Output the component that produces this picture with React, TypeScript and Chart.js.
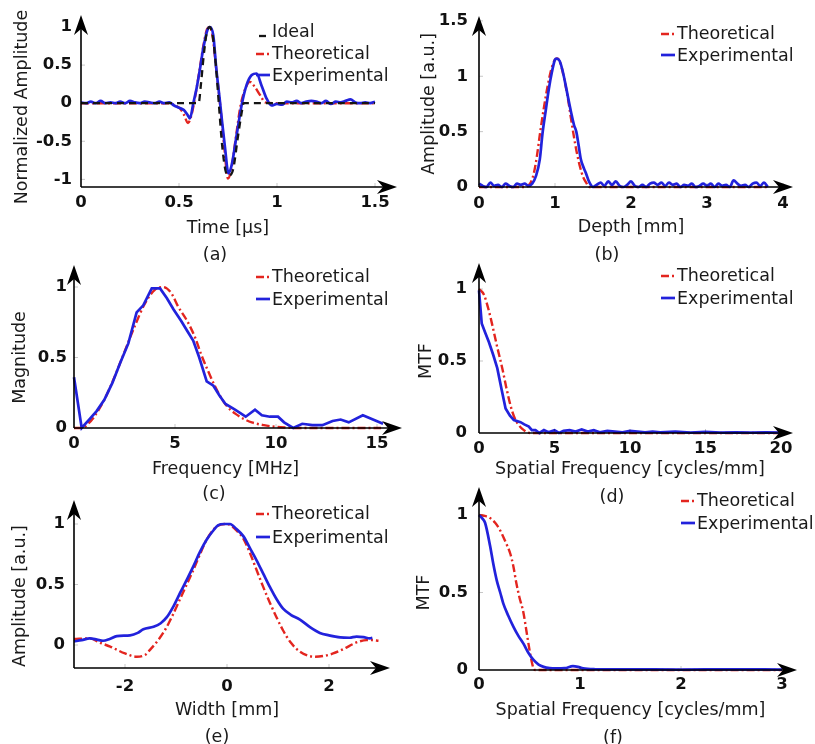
import React, { useEffect, useRef } from "react";
import { Chart, registerables } from "chart.js";

Chart.register(...registerables);

const FONT = '"DejaVu Sans", "Liberation Sans", sans-serif';
const TITLE_SIZE = 17.5;
const TICK_SIZE = 16.5;
const LH = TITLE_SIZE * 1.2;
const W = 815;
const H = 744;

// ---------- (a) pulse ----------
const A_IDEAL_T = [0, 0.6, 0.612, 0.625, 0.64, 0.656, 0.672, 0.688, 0.703, 0.72, 0.737, 0.753, 0.777, 0.8, 0.82, 0.83, 1.5];
const A_IDEAL_V = [0, 0, 0.25, 0.6, 0.9, 1.0, 0.88, 0.5, 0.0, -0.55, -0.88, -0.95, -0.86, -0.45, -0.12, 0, 0];
const A_THEO_T = [0, 0.1, 0.2, 0.3, 0.4, 0.45, 0.48, 0.505, 0.525, 0.546, 0.56, 0.575, 0.59, 0.607, 0.624, 0.643, 0.655, 0.67, 0.69, 0.709, 0.73, 0.75, 0.768, 0.79, 0.815, 0.84, 0.862, 0.885, 0.913, 0.94, 1.0, 1.2, 1.5];
const A_THEO_V = [0, 0, 0, 0, 0, 0, -0.03, -0.07, -0.15, -0.26, -0.19, -0.02, 0.2, 0.47, 0.75, 0.97, 1.0, 0.9, 0.45, 0.0, -0.55, -0.99, -0.85, -0.45, -0.02, 0.2, 0.28, 0.22, 0.11, 0.01, 0, 0, 0];
const A_EXP_T = [
  0, 0.025, 0.05, 0.075, 0.1, 0.125, 0.15, 0.175, 0.2, 0.225, 0.25, 0.275, 0.3, 0.325, 0.35, 0.375, 0.4, 0.425, 0.45, 0.475, 0.5,
  0.525, 0.545, 0.556, 0.573, 0.59, 0.607, 0.624, 0.645, 0.658, 0.675, 0.69, 0.709, 0.72, 0.735, 0.752, 0.769, 0.794, 0.82, 0.845, 0.871, 0.896, 0.92, 0.947, 0.972,
  1.0, 1.025, 1.05, 1.075, 1.1, 1.125, 1.15, 1.175, 1.2, 1.225, 1.25, 1.275, 1.3, 1.325, 1.35, 1.375, 1.4, 1.425, 1.45, 1.475, 1.5,
];
const A_EXP_V = [
  0.01, 0, 0.02, 0, 0.03, 0, 0.01, 0, 0.02, 0, 0.03, 0.01, 0, 0.02, 0.01, 0, 0.02, 0, 0.01, -0.03, -0.06,
  -0.09, -0.16, -0.2, 0.0, 0.2, 0.45, 0.72, 0.96, 1.0, 0.89, 0.46, 0.02, -0.25, -0.59, -0.92, -0.81, -0.42, -0.02, 0.24, 0.37, 0.39, 0.24, 0.06, -0.03,
  -0.01, -0.02, 0.02, 0.01, 0.03, 0, 0.02, 0.03, 0.02, 0, 0.03, -0.01, 0.02, 0.01, 0.03, 0.05, 0.01, 0, 0.01, 0, 0.02,
];

// ---------- (b) depth profile ----------
const B_THEO_D = [0, 0.6, 0.68, 0.72, 0.76, 0.8, 0.85, 0.9, 0.95, 1.0, 1.03, 1.07, 1.12, 1.17, 1.21, 1.25, 1.29, 1.33, 1.37, 1.41, 1.45, 2.0, 3.0, 3.8];
const B_THEO_V = [0, 0, 0.04, 0.12, 0.27, 0.47, 0.7, 0.9, 1.06, 1.15, 1.16, 1.12, 0.98, 0.8, 0.62, 0.45, 0.3, 0.18, 0.09, 0.04, 0, 0, 0, 0];
const B_EXP_D = [
  0, 0.05, 0.1, 0.15, 0.2, 0.25, 0.3, 0.35, 0.4, 0.45, 0.5, 0.55, 0.6, 0.65, 0.7,
  0.75, 0.8, 0.835, 0.88, 0.92, 0.96, 1.0, 1.02, 1.06, 1.1, 1.14, 1.18, 1.21, 1.25, 1.28, 1.31, 1.34, 1.38, 1.41, 1.44, 1.47,
  1.5, 1.55, 1.6, 1.65, 1.7, 1.75, 1.8, 1.85, 1.9, 1.95, 2.0, 2.05, 2.1, 2.15, 2.2, 2.25, 2.3, 2.35, 2.4, 2.45, 2.5, 2.55, 2.6,
  2.65, 2.7, 2.75, 2.8, 2.85, 2.9, 2.95, 3.0, 3.05, 3.1, 3.15, 3.2, 3.25, 3.3, 3.35, 3.4, 3.45, 3.5, 3.55, 3.6, 3.65, 3.7, 3.75, 3.8,
];
const B_EXP_V = [
  0.03, 0.01, 0.0, 0.04, 0.01, 0.02, 0.0, 0.03, 0.01, 0.0, 0.03, 0.02, 0.03, 0.01, 0.03,
  0.1, 0.25, 0.48, 0.7, 0.89, 1.04, 1.15, 1.16, 1.14, 1.05, 0.92, 0.78, 0.68, 0.56, 0.5, 0.38, 0.25, 0.17, 0.12, 0.06, 0.02,
  0.0, 0.02, 0.04, 0.01, 0.05, 0.02, 0.05, 0.01, 0.0, 0.02, 0.05, 0.01, 0.0, 0.02, 0.0, 0.03, 0.04, 0.02, 0.04, 0.01, 0.04, 0.02, 0.03,
  0.0, 0.02, 0.01, 0.03, 0.0, 0.01, 0.03, 0.01, 0.03, 0.0, 0.03, 0.01, 0.02, 0.0, 0.06, 0.03, 0.01, 0.02, 0.0, 0.03, 0.04, 0.01, 0.04, 0.0,
];

// ---------- (c) spectrum ----------
const C_THEO_F = [0, 0.4, 0.7, 1.0, 1.5, 2.0, 2.5, 3.0, 3.5, 4.0, 4.4, 4.8, 5.16, 5.6, 6.0, 6.3, 6.65, 7.0, 7.3, 7.6, 8.0, 8.4, 8.8, 9.4, 10.0, 10.5, 11.0, 15.2];
const C_THEO_V = [0, 0, 0.03, 0.08, 0.2, 0.36, 0.54, 0.72, 0.88, 0.98, 1.0, 0.96, 0.86, 0.76, 0.64, 0.52, 0.4, 0.29, 0.21, 0.15, 0.1, 0.065, 0.04, 0.02, 0.008, 0.003, 0, 0];
const C_EXP_F = [0, 0.38, 0.75, 1.12, 1.5, 1.9, 2.28, 2.69, 3.1, 3.43, 3.85, 4.26, 4.6, 4.93, 5.3, 5.6, 5.9, 6.2, 6.57, 6.9, 7.2, 7.5, 7.97, 8.5, 8.96, 9.3, 9.7, 10.1, 10.4, 10.85, 11.3, 11.8, 12.3, 12.8, 13.2, 13.6, 14.3, 14.8, 15.3];
const C_EXP_V = [0.36, 0.0, 0.06, 0.12, 0.2, 0.32, 0.46, 0.6, 0.82, 0.87, 0.99, 0.99, 0.92, 0.84, 0.76, 0.69, 0.62, 0.5, 0.33, 0.3, 0.23, 0.17, 0.13, 0.08, 0.13, 0.09, 0.08, 0.08, 0.04, 0.0, 0.03, 0.02, 0.02, 0.05, 0.06, 0.04, 0.09, 0.06, 0.03];

// ---------- (d) axial MTF ----------
const D_THEO_F = [0, 0.33, 0.6, 0.88, 1.2, 1.54, 1.8, 2.09, 2.3, 2.53, 2.75, 2.97, 3.2, 3.4, 20];
const D_THEO_V = [1.0, 0.96, 0.87, 0.75, 0.6, 0.45, 0.32, 0.19, 0.12, 0.07, 0.04, 0.02, 0.005, 0, 0];
const D_EXP_F = [0, 0.18, 0.4, 0.66, 0.95, 1.21, 1.5, 1.76, 2.05, 2.31, 2.75, 3.0, 3.3, 3.5, 3.74, 4.0, 4.3, 4.6, 5.0, 5.3, 5.6, 6.0, 6.4, 6.8, 7.2, 7.6, 8.0, 8.5, 9.0, 9.5, 10.0, 10.5, 11.0, 11.5, 12.0, 13.0, 14.0, 15.0, 16.0, 17.0, 18.0, 19.0, 20.0];
const D_EXP_V = [0.99, 0.76, 0.7, 0.63, 0.54, 0.45, 0.3, 0.17, 0.12, 0.09, 0.075, 0.06, 0.045, 0.02, 0.02, 0.0, 0.02, 0.005, 0.02, 0.0, 0.015, 0.02, 0.01, 0.025, 0.01, 0.02, 0.005, 0.015, 0.01, 0.005, 0.015, 0.01, 0.005, 0.01, 0.005, 0.01, 0.003, 0.008, 0.003, 0.005, 0.002, 0.005, 0.002];

// ---------- (e) lateral profile ----------
const E_THEO_W = [-3.0, -2.69, -2.5, -2.29, -2.0, -1.77, -1.6, -1.51, -1.35, -1.18, -1.05, -0.92, -0.79, -0.66, -0.53, -0.4, -0.2, 0.0, 0.1, 0.2, 0.32, 0.45, 0.58, 0.71, 0.84, 0.97, 1.1, 1.25, 1.43, 1.6, 1.73, 1.9, 2.08, 2.3, 2.48, 2.6, 2.74, 2.85, 2.97];
const E_THEO_V = [0.05, 0.055, 0.02, -0.013, -0.07, -0.097, -0.08, -0.04, 0.04, 0.15, 0.26, 0.38, 0.5, 0.62, 0.75, 0.87, 0.98, 1.0, 0.98, 0.94, 0.88, 0.76, 0.62, 0.48, 0.35, 0.23, 0.12, 0.02, -0.055, -0.09, -0.097, -0.09, -0.07, -0.03, 0.01, 0.03, 0.04, 0.04, 0.035];
const E_EXP_W = [-3.0, -2.85, -2.69, -2.55, -2.43, -2.3, -2.16, -1.9, -1.75, -1.64, -1.44, -1.3, -1.18, -1.05, -0.92, -0.8, -0.66, -0.53, -0.4, -0.28, -0.17, -0.05, 0.06, 0.18, 0.32, 0.45, 0.58, 0.71, 0.84, 0.97, 1.1, 1.25, 1.43, 1.62, 1.82, 2.0, 2.22, 2.4, 2.54, 2.68, 2.8, 2.85];
const E_EXP_V = [0.03, 0.04, 0.055, 0.045, 0.035, 0.05, 0.074, 0.08, 0.1, 0.13, 0.15, 0.18, 0.23, 0.32, 0.43, 0.53, 0.65, 0.77, 0.87, 0.94, 0.99, 1.0, 1.0, 0.96, 0.9, 0.8, 0.7, 0.59, 0.48, 0.38, 0.3, 0.25, 0.21, 0.15, 0.1, 0.08, 0.063, 0.06, 0.07, 0.065, 0.055, 0.06];

// ---------- (f) lateral MTF ----------
const F_THEO_F = [0, 0.05, 0.11, 0.16, 0.21, 0.26, 0.31, 0.34, 0.37, 0.4, 0.44, 0.47, 0.5, 0.52, 0.54, 0.56, 3.0];
const F_THEO_V = [1.0, 0.995, 0.98, 0.95, 0.9, 0.83, 0.75, 0.67, 0.56, 0.47, 0.37, 0.25, 0.13, 0.06, 0.01, 0, 0];
const F_EXP_F = [0, 0.03, 0.06, 0.11, 0.14, 0.175, 0.21, 0.24, 0.29, 0.34, 0.39, 0.44, 0.49, 0.54, 0.59, 0.64, 0.7, 0.76, 0.85, 0.93, 0.98, 1.03, 1.15, 1.5, 2.0, 2.5, 3.0];
const F_EXP_V = [1.0, 0.98, 0.95, 0.8, 0.69, 0.58, 0.5, 0.43, 0.35, 0.28, 0.22, 0.17, 0.11, 0.065, 0.035, 0.02, 0.012, 0.01, 0.012, 0.025, 0.02, 0.01, 0.005, 0.004, 0.003, 0.004, 0.003];

type Kind = "ideal" | "theo" | "exp";
const LABELS: Record<Kind, string> = { ideal: "Ideal", theo: "Theoretical", exp: "Experimental" };
const STYLES: Record<Kind, { color: string; dash: number[]; width: number; order: number }> = {
  ideal: { color: "#151515", dash: [7, 5], width: 2.3, order: 0 },
  exp: { color: "#2222dc", dash: [], width: 2.7, order: 1 },
  theo: { color: "#e3251f", dash: [8, 3, 2, 3], width: 2.4, order: 2 },
};

interface SeriesDef { kind: Kind; xs: number[]; ys: number[]; smooth: boolean }
interface PanelDef {
  caption: string; capX: number; capY: number;
  area: { l: number; r: number; t: number; b: number };
  xMin: number; xMax: number; yMin: number; yMax: number;
  xTicks: number[]; yTicks: number[];
  xTitle: string; yTitle: string; xTitleY: number; yTitleX: number;
  arrowX: number; arrowY: number; xTickPad: number; yTickPad: number;
  legendX: number; legendY: number[];
  series: SeriesDef[];
}

const PANELS: PanelDef[] = [
  {
    caption: "(a)", capX: 215, capY: 255,
    area: { l: 81, r: 375, t: 27, b: 187 },
    xMin: 0, xMax: 1.5, yMin: -1.1, yMax: 1,
    xTicks: [0, 0.5, 1, 1.5], yTicks: [-1, -0.5, 0, 0.5, 1],
    xTitle: "Time [µs]", yTitle: "Normalized Amplitude", xTitleY: 228, yTitleX: 22,
    arrowX: 22, arrowY: 12, xTickPad: 5.6, yTickPad: 9,
    legendX: 272, legendY: [32, 54, 76],
    series: [
      { kind: "ideal", xs: A_IDEAL_T, ys: A_IDEAL_V, smooth: true },
      { kind: "theo", xs: A_THEO_T, ys: A_THEO_V, smooth: true },
      { kind: "exp", xs: A_EXP_T, ys: A_EXP_V, smooth: true },
    ],
  },
  {
    caption: "(b)", capX: 607, capY: 255,
    area: { l: 479, r: 783, t: 18, b: 187 },
    xMin: 0, xMax: 4, yMin: 0, yMax: 1.5,
    xTicks: [0, 1, 2, 3, 4], yTicks: [0, 0.5, 1, 1.5],
    xTitle: "Depth [mm]", yTitle: "Amplitude [a.u.]", xTitleY: 227, yTitleX: 429,
    arrowX: 10, arrowY: 5, xTickPad: 7, yTickPad: 11,
    legendX: 677, legendY: [34, 56],
    series: [
      { kind: "theo", xs: B_THEO_D, ys: B_THEO_V, smooth: true },
      { kind: "exp", xs: B_EXP_D, ys: B_EXP_V, smooth: true },
    ],
  },
  {
    caption: "(c)", capX: 214, capY: 494,
    area: { l: 74, r: 377, t: 287, b: 428 },
    xMin: 0, xMax: 15, yMin: 0, yMax: 1,
    xTicks: [0, 5, 10, 15], yTicks: [0, 0.5, 1],
    xTitle: "Frequency [MHz]", yTitle: "Magnitude", xTitleY: 469, yTitleX: 20,
    arrowX: 25, arrowY: 22, xTickPad: 6, yTickPad: 7,
    legendX: 272, legendY: [277, 300],
    series: [
      { kind: "theo", xs: C_THEO_F, ys: C_THEO_V, smooth: true },
      { kind: "exp", xs: C_EXP_F, ys: C_EXP_V, smooth: false },
    ],
  },
  {
    caption: "(d)", capX: 612, capY: 497,
    area: { l: 479, r: 781, t: 289, b: 433 },
    xMin: 0, xMax: 20, yMin: 0, yMax: 1,
    xTicks: [0, 5, 10, 15, 20], yTicks: [0, 0.5, 1],
    xTitle: "Spatial Frequency [cycles/mm]", yTitle: "MTF", xTitleY: 469, yTitleX: 426,
    arrowX: 12, arrowY: 26, xTickPad: 6, yTickPad: 12,
    legendX: 677, legendY: [276, 299],
    series: [
      { kind: "theo", xs: D_THEO_F, ys: D_THEO_V, smooth: true },
      { kind: "exp", xs: D_EXP_F, ys: D_EXP_V, smooth: false },
    ],
  },
  {
    caption: "(e)", capX: 217, capY: 737,
    area: { l: 74, r: 380, t: 524, b: 668 },
    xMin: -3, xMax: 3, yMin: -0.19, yMax: 1,
    xTicks: [-2, 0, 2], yTicks: [0, 0.5, 1],
    xTitle: "Width [mm]", yTitle: "Amplitude [a.u.]", xTitleY: 710, yTitleX: 20,
    arrowX: 10, arrowY: 24, xTickPad: 9, yTickPad: 9,
    legendX: 272, legendY: [514, 538],
    series: [
      { kind: "theo", xs: E_THEO_W, ys: E_THEO_V, smooth: true },
      { kind: "exp", xs: E_EXP_W, ys: E_EXP_V, smooth: true },
    ],
  },
  {
    caption: "(f)", capX: 613, capY: 738,
    area: { l: 479, r: 782, t: 515, b: 670 },
    xMin: 0, xMax: 3, yMin: 0, yMax: 1,
    xTicks: [0, 1, 2, 3], yTicks: [0, 0.5, 1],
    xTitle: "Spatial Frequency [cycles/mm]", yTitle: "MTF", xTitleY: 710, yTitleX: 424,
    arrowX: 15, arrowY: 28, xTickPad: 5, yTickPad: 11,
    legendX: 697, legendY: [501, 524],
    series: [
      { kind: "theo", xs: F_THEO_F, ys: F_THEO_V, smooth: true },
      { kind: "exp", xs: F_EXP_F, ys: F_EXP_V, smooth: true },
    ],
  },
];

function drawArrow(ctx: CanvasRenderingContext2D, tx: number, ty: number, dx: number, dy: number) {
  const L = 20, Wd = 7, notch = 6;
  const px = -dy, py = dx;
  ctx.beginPath();
  ctx.moveTo(tx, ty);
  ctx.lineTo(tx - dx * L + px * Wd, ty - dy * L + py * Wd);
  ctx.lineTo(tx - dx * (L - notch), ty - dy * (L - notch));
  ctx.lineTo(tx - dx * L - px * Wd, ty - dy * L - py * Wd);
  ctx.closePath();
  ctx.fill();
}

function PanelChart({ p }: { p: PanelDef }) {
  const ref = useRef<HTMLCanvasElement>(null);
  useEffect(() => {
    const canvas = ref.current;
    if (!canvas) return;
    const yW = p.area.l - (p.yTitleX - LH / 2);
    const xH = p.xTitleY + LH / 2 - p.area.b;

    const decor = {
      id: "decor",
      afterDraw(chart: any) {
        const ctx: CanvasRenderingContext2D = chart.ctx;
        const { left, right, top, bottom } = chart.chartArea;
        const xs = chart.scales.x;
        const ys = chart.scales.y;
        ctx.save();
        // faint tick marks
        ctx.strokeStyle = "rgba(0,0,0,0.22)";
        ctx.lineWidth = 1;
        ctx.setLineDash([]);
        ctx.beginPath();
        p.xTicks.forEach((v) => {
          const px = xs.getPixelForValue(v);
          if (Math.abs(px - left) > 2) { ctx.moveTo(px, bottom); ctx.lineTo(px, bottom - 4); }
        });
        p.yTicks.forEach((v) => {
          const py = ys.getPixelForValue(v);
          if (Math.abs(py - bottom) > 2) { ctx.moveTo(left, py); ctx.lineTo(left + 4, py); }
        });
        ctx.stroke();
        // axes with arrows
        const xTip = right + p.arrowX;
        const yTip = top - p.arrowY;
        ctx.strokeStyle = "#000";
        ctx.fillStyle = "#000";
        ctx.lineWidth = 1.6;
        ctx.beginPath();
        ctx.moveTo(left, bottom);
        ctx.lineTo(xTip - 8, bottom);
        ctx.moveTo(left, bottom);
        ctx.lineTo(left, yTip + 8);
        ctx.stroke();
        drawArrow(ctx, xTip, bottom, 1, 0);
        drawArrow(ctx, left, yTip, 0, -1);
        // legend
        ctx.font = `${TITLE_SIZE}px ${FONT}`;
        ctx.textBaseline = "middle";
        ctx.textAlign = "left";
        p.series.forEach((s, i) => {
          const st = STYLES[s.kind];
          const y = p.legendY[i];
          const tx = p.legendX;
          ctx.strokeStyle = st.color;
          ctx.lineWidth = st.width;
          ctx.setLineDash(st.dash);
          ctx.beginPath();
          if (s.kind === "ideal") { ctx.moveTo(tx - 13, y + 4); ctx.lineTo(tx - 6, y + 4); }
          else if (s.kind === "theo") { ctx.moveTo(tx - 16, y); ctx.lineTo(tx - 2, y); }
          else { ctx.moveTo(tx - 16, y - 1); ctx.lineTo(tx - 2, y - 1); }
          ctx.stroke();
          ctx.setLineDash([]);
          ctx.fillStyle = "#1a1a1a";
          ctx.fillText(LABELS[s.kind], tx, y);
        });
        // caption
        ctx.textAlign = "center";
        ctx.fillStyle = "#1a1a1a";
        ctx.fillText(p.caption, p.capX, p.capY);
        ctx.restore();
      },
    };

    const tickFont = { family: FONT, size: TICK_SIZE, weight: "bold" as const };
    const titleFont = { family: FONT, size: TITLE_SIZE };

    const chart = new Chart(canvas, {
      type: "line",
      data: {
        datasets: p.series.map((s) => ({
          label: LABELS[s.kind],
          data: s.xs.map((x, i) => ({ x, y: s.ys[i] })),
          borderColor: STYLES[s.kind].color,
          backgroundColor: STYLES[s.kind].color,
          borderWidth: STYLES[s.kind].width,
          borderDash: STYLES[s.kind].dash,
          pointRadius: 0,
          fill: false,
          tension: 0,
          cubicInterpolationMode: s.smooth ? "monotone" : "default",
          order: STYLES[s.kind].order,
          clip: 12,
        })) as any,
      },
      options: {
        responsive: false,
        animation: false,
        layout: {
          padding: {
            left: p.area.l - yW,
            right: W - p.area.r,
            top: p.area.t,
            bottom: H - p.area.b - xH,
          },
        },
        plugins: {
          legend: { display: false },
          tooltip: { enabled: false },
          title: { display: false },
        },
        scales: {
          x: {
            type: "linear",
            position: "bottom",
            min: p.xMin,
            max: p.xMax,
            afterBuildTicks: (s: any) => { s.ticks = p.xTicks.map((v) => ({ value: v })); },
            afterFit: (s: any) => { s.height = xH; },
            grid: { display: false, drawTicks: false },
            border: { display: false },
            ticks: {
              autoSkip: false, maxRotation: 0, minRotation: 0, padding: p.xTickPad,
              font: tickFont, color: "#111",
              callback: (v: any) => String(v),
            },
            title: { display: true, text: p.xTitle, font: titleFont, color: "#1a1a1a", padding: 0 },
          },
          y: {
            type: "linear",
            position: "left",
            min: p.yMin,
            max: p.yMax,
            afterBuildTicks: (s: any) => { s.ticks = p.yTicks.map((v) => ({ value: v })); },
            afterFit: (s: any) => { s.width = yW; },
            grid: { display: false, drawTicks: false },
            border: { display: false },
            ticks: {
              autoSkip: false, padding: p.yTickPad,
              font: tickFont, color: "#111",
              callback: (v: any) => String(v),
            },
            title: { display: true, text: p.yTitle, font: titleFont, color: "#1a1a1a", padding: 0 },
          },
        },
      } as any,
      plugins: [decor],
    });
    return () => chart.destroy();
  }, [p]);
  return (
    <canvas
      ref={ref}
      width={W}
      height={H}
      style={{ position: "absolute", left: 0, top: 0, width: W, height: H }}
    />
  );
}

export default function App() {
  return (
    <div style={{ position: "absolute", left: 0, top: 0, width: W, height: H, background: "#fff", overflow: "hidden" }}>
      {PANELS.map((p) => (
        <PanelChart key={p.caption} p={p} />
      ))}
    </div>
  );
}
